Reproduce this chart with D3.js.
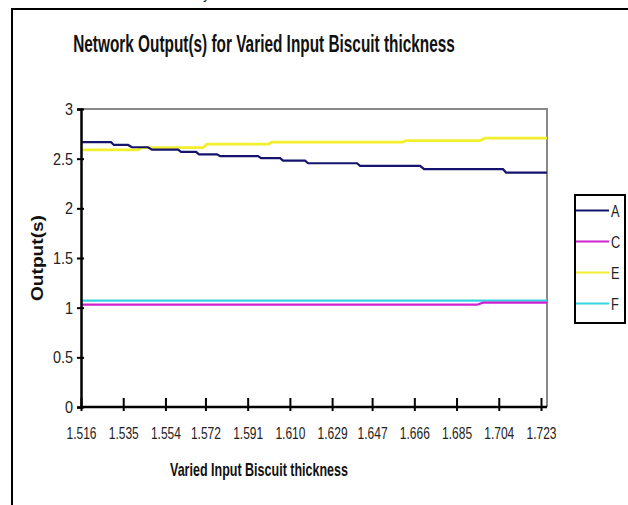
<!DOCTYPE html>
<html><head><meta charset="utf-8">
<script src="https://cdn.jsdelivr.net/npm/d3@7"></script>
<style>
html,body{margin:0;padding:0;background:#fff;}
svg{display:block;}
text{font-family:"Liberation Sans",Arial,sans-serif;}
</style></head>
<body>
<svg id="c" width="628" height="505"></svg>
<script>
// ---- data ----
const xTickLabels = ["1.516","1.535","1.554","1.572","1.591","1.610","1.629","1.647","1.666","1.685","1.704","1.723"];
const yTickValues = [0,0.5,1,1.5,2,2.5,3];
const seriesNames = ["A","C","E","F"];
const seriesColors = ["#14146e","#d022d0","#f2ef2c","#35d3e3"];
// thickness / output pairs (step segments)
const aThick = [1.516,1.5295,1.5308,1.5372,1.5389,1.5462,1.5479,1.5597,1.5610,1.5678,1.5691,1.5772,1.5786,1.5957,1.5970,1.6056,1.6069,1.6168,1.6182,1.6402,1.6416,1.6686,1.6704,1.7059,1.7073,1.7257];
const aOut   = [2.666,2.666,2.638,2.638,2.615,2.615,2.591,2.591,2.568,2.568,2.543,2.543,2.525,2.525,2.505,2.505,2.480,2.480,2.454,2.454,2.428,2.428,2.394,2.394,2.360,2.360];
const cThick = [1.516,1.6942,1.6969,1.7257];
const cOut   = [1.030,1.030,1.050,1.050];
const eThick = [1.516,1.5417,1.5435,1.5709,1.5727,1.6002,1.6020,1.6605,1.6623,1.6956,1.6978,1.7257];
const eOut   = [2.588,2.588,2.611,2.611,2.646,2.646,2.666,2.666,2.682,2.682,2.706,2.706];
const fThick = [1.516,1.7257];
const fOut   = [1.070,1.070];

const svg = d3.select("#c");
const x = d3.scaleLinear().domain([1.516,1.7257]).range([81,547]);
const y = d3.scaleLinear().domain([0,3]).range([407,109]);

function squeeze(sel, f){
  sel.each(function(){
    const len = this.getComputedTextLength();
    d3.select(this).attr("textLength", len*f).attr("lengthAdjust","spacingAndGlyphs");
  });
}
function fitTo(sel, w){
  sel.attr("textLength", w).attr("lengthAdjust","spacingAndGlyphs");
}
// horizontally scaled text placed at (cx, by), centred, to a given width
function scaledText(cx, by, w, size, str){
  const g = svg.append("g");
  const t = g.append("text").attr("x",0).attr("y",0).attr("text-anchor","middle")
    .attr("font-size",size).attr("font-weight","bold").attr("fill","#111").text(str);
  const len = t.node().getComputedTextLength();
  g.attr("transform",`translate(${cx},${by}) scale(${w/len},1)`);
  return t;
}

// outer frame
svg.append("rect").attr("x",12).attr("y",9).attr("width",640).attr("height",520)
  .attr("fill","none").attr("stroke","#000").attr("stroke-width",2);
svg.append("text").attr("x",203).attr("y",-1).attr("font-size",14).attr("fill","#222").text("y");

// title
scaledText(264, 52, 382, 23, "Network Output(s) for Varied Input Biscuit thickness");

// plot border (top/right gray)
svg.append("path").attr("d",`M81,109H547V407`).attr("fill","none").attr("stroke","#888").attr("stroke-width",2);

// lines
const line = d3.line().x(d=>x(d[0])).y(d=>y(d[1]));
const series = [[aThick,aOut],[cThick,cOut],[eThick,eOut],[fThick,fOut]];
const order = [2,0,3,1];
order.forEach(i=>{
  const pts = series[i][0].map((t,j)=>[t,series[i][1][j]]);
  svg.append("path").attr("d",line(pts)).attr("fill","none")
    .attr("stroke",seriesColors[i]).attr("stroke-width", i===2?2.8:2.2);
});

// y axis
const ya = svg.append("g").attr("transform","translate(81,0)")
  .call(d3.axisLeft(y).tickValues(yTickValues).tickSize(4).tickPadding(4).tickFormat(d=>String(d)));
ya.attr("font-family",null);
ya.select(".domain").attr("stroke","#000").attr("stroke-width",2.5);
ya.selectAll(".tick line").attr("x1",3).attr("x2",-4).attr("stroke","#000").attr("stroke-width",2);
ya.selectAll(".tick text").attr("font-size",17).attr("fill","#222");
squeeze(ya.selectAll(".tick text"), 0.85);

// x axis
const xa = svg.append("g").attr("transform","translate(0,407)")
  .call(d3.axisBottom(x).tickValues(xTickLabels.map(Number)).tickSize(4).tickPadding(0)
        .tickFormat((d,i)=>xTickLabels[i]));
xa.attr("font-family",null);
xa.select(".domain").attr("stroke","#000").attr("stroke-width",2.5).attr("d","M81,0H547");
xa.selectAll(".tick line").attr("y1",-9).attr("y2",4).attr("stroke","#000").attr("stroke-width",2);
xa.selectAll(".tick text").attr("font-size",17).attr("fill","#222").attr("y",32).attr("dy",0);
fitTo(xa.selectAll(".tick text"), 30);

// axis titles
scaledText(259, 476, 178, 18, "Varied Input Biscuit thickness");
fitTo(svg.append("text").attr("transform","translate(43,258) rotate(-90)").attr("text-anchor","middle")
  .attr("font-size",17).attr("font-weight","bold")
  .attr("fill","#111").text("Output(s)"), 86);

// legend
const lg = svg.append("g");
lg.append("rect").attr("x",575).attr("y",195).attr("width",50).attr("height",128)
  .attr("fill","#fff").attr("stroke","#000").attr("stroke-width",2);
seriesNames.forEach((n,i)=>{
  const yy = 210.5 + i*31;
  lg.append("line").attr("x1",576).attr("x2",609).attr("y1",yy).attr("y2",yy)
    .attr("stroke",seriesColors[i]).attr("stroke-width",2.2);
  const t = lg.append("text").attr("x",611).attr("y",yy+6).attr("font-size",16)
    .attr("fill","#222").text(n);
  squeeze(t, 0.8);
});
</script>
</body></html>
